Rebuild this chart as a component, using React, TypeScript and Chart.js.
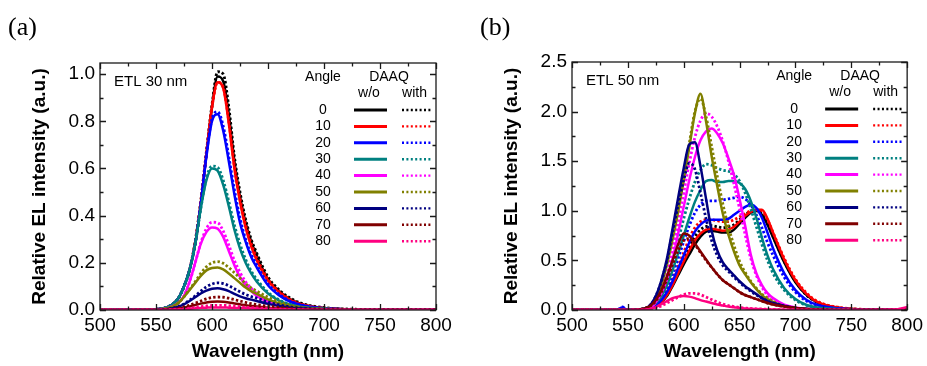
import React, { useEffect, useRef } from 'react';
import { Chart, registerables } from 'chart.js';
Chart.register(...registerables);

const ANGLES = ['0', '10', '20', '30', '40', '50', '60', '70', '80'];
const COLORS = ['#000000', '#ff0000', '#0000ff', '#008080', '#ff00ff', '#808000', '#000080', '#800000', '#ff0080'];
const HEADERS = { angle: 'Angle', daaq: 'DAAQ', wo: 'w/o', with: 'with' };
const PANEL_LABELS = ['(a)', '(b)'];
const ETL_LABELS = ['ETL 30 nm', 'ETL 50 nm'];
const X_TITLE = 'Wavelength (nm)';
const Y_TITLE = 'Relative EL intensity (a.u.)';

// Panel (a): ETL 30 nm
const WL_A = [500, 550, 560, 565, 570, 575, 580, 585, 590, 595, 600, 605, 610, 615, 620, 625, 630, 635, 640, 650, 660, 670, 680, 700, 730, 800];
const A_WO = [
  [0, 0.003, 0.012, 0.025, 0.05, 0.10, 0.17, 0.28, 0.45, 0.66, 0.86, 0.99, 0.97, 0.83, 0.63, 0.48, 0.37, 0.29, 0.23, 0.13, 0.08, 0.045, 0.025, 0.008, 0.002, 0],
  [0, 0.003, 0.012, 0.025, 0.05, 0.10, 0.17, 0.28, 0.45, 0.66, 0.86, 0.965, 0.94, 0.79, 0.60, 0.46, 0.35, 0.27, 0.21, 0.125, 0.075, 0.042, 0.023, 0.007, 0.002, 0],
  [0, 0.003, 0.012, 0.025, 0.05, 0.10, 0.17, 0.28, 0.45, 0.65, 0.80, 0.83, 0.76, 0.63, 0.49, 0.37, 0.29, 0.225, 0.18, 0.105, 0.062, 0.035, 0.02, 0.006, 0.002, 0],
  [0, 0.003, 0.012, 0.025, 0.05, 0.10, 0.17, 0.28, 0.43, 0.55, 0.60, 0.59, 0.53, 0.44, 0.34, 0.26, 0.20, 0.155, 0.12, 0.07, 0.04, 0.022, 0.012, 0.004, 0.001, 0],
  [0, 0.002, 0.008, 0.016, 0.03, 0.06, 0.12, 0.20, 0.28, 0.33, 0.35, 0.345, 0.31, 0.25, 0.19, 0.14, 0.105, 0.08, 0.06, 0.035, 0.02, 0.011, 0.006, 0.002, 0, 0],
  [0, 0.002, 0.008, 0.015, 0.03, 0.055, 0.085, 0.115, 0.145, 0.168, 0.178, 0.18, 0.172, 0.155, 0.135, 0.115, 0.095, 0.08, 0.068, 0.045, 0.028, 0.017, 0.01, 0.004, 0.001, 0],
  [0, 0.001, 0.004, 0.008, 0.014, 0.024, 0.038, 0.054, 0.07, 0.082, 0.09, 0.092, 0.088, 0.08, 0.068, 0.058, 0.05, 0.044, 0.038, 0.026, 0.017, 0.01, 0.006, 0.002, 0, 0],
  [0, 0, 0.002, 0.003, 0.006, 0.01, 0.015, 0.021, 0.027, 0.032, 0.035, 0.036, 0.035, 0.032, 0.028, 0.024, 0.02, 0.017, 0.015, 0.01, 0.007, 0.004, 0.003, 0.001, 0, 0],
  [0, 0, 0, 0.001, 0.002, 0.003, 0.005, 0.007, 0.009, 0.01, 0.011, 0.011, 0.011, 0.01, 0.009, 0.008, 0.007, 0.006, 0.005, 0.003, 0.002, 0.001, 0.001, 0, 0, 0],
];
const A_WITH = [
  [0, 0.003, 0.012, 0.025, 0.05, 0.10, 0.17, 0.29, 0.46, 0.67, 0.87, 1.01, 1.0, 0.86, 0.65, 0.50, 0.385, 0.30, 0.24, 0.14, 0.085, 0.05, 0.028, 0.01, 0.003, 0],
  [0, 0.003, 0.012, 0.025, 0.05, 0.10, 0.17, 0.29, 0.46, 0.67, 0.86, 0.965, 0.945, 0.80, 0.61, 0.47, 0.36, 0.28, 0.22, 0.13, 0.078, 0.044, 0.024, 0.008, 0.002, 0],
  [0, 0.003, 0.012, 0.025, 0.05, 0.10, 0.17, 0.28, 0.45, 0.66, 0.81, 0.84, 0.78, 0.65, 0.51, 0.39, 0.30, 0.235, 0.19, 0.11, 0.066, 0.037, 0.021, 0.007, 0.002, 0],
  [0, 0.003, 0.012, 0.025, 0.05, 0.10, 0.17, 0.28, 0.43, 0.56, 0.61, 0.605, 0.55, 0.46, 0.36, 0.28, 0.215, 0.165, 0.13, 0.075, 0.043, 0.024, 0.013, 0.004, 0.001, 0],
  [0, 0.002, 0.008, 0.016, 0.03, 0.06, 0.12, 0.20, 0.285, 0.345, 0.372, 0.37, 0.335, 0.275, 0.21, 0.16, 0.12, 0.092, 0.07, 0.04, 0.023, 0.013, 0.007, 0.002, 0, 0],
  [0, 0.002, 0.008, 0.015, 0.03, 0.056, 0.088, 0.12, 0.155, 0.183, 0.2, 0.205, 0.198, 0.18, 0.158, 0.135, 0.112, 0.094, 0.08, 0.054, 0.034, 0.02, 0.012, 0.005, 0.001, 0],
  [0, 0.001, 0.004, 0.008, 0.015, 0.026, 0.042, 0.06, 0.08, 0.098, 0.11, 0.115, 0.112, 0.103, 0.09, 0.077, 0.066, 0.057, 0.05, 0.034, 0.022, 0.013, 0.008, 0.003, 0, 0],
  [0, 0, 0.002, 0.004, 0.008, 0.013, 0.02, 0.029, 0.038, 0.047, 0.053, 0.055, 0.054, 0.05, 0.044, 0.038, 0.032, 0.027, 0.023, 0.016, 0.011, 0.007, 0.004, 0.001, 0, 0],
  [0, 0, 0.001, 0.002, 0.003, 0.005, 0.008, 0.011, 0.014, 0.017, 0.019, 0.02, 0.02, 0.018, 0.016, 0.014, 0.012, 0.01, 0.009, 0.006, 0.004, 0.002, 0.001, 0, 0, 0],
];

// Panel (b): ETL 50 nm
const WL_B = [500, 540, 545, 550, 560, 570, 575, 580, 585, 590, 595, 600, 605, 610, 615, 620, 625, 630, 635, 640, 645, 650, 655, 660, 665, 670, 675, 680, 690, 700, 710, 720, 740, 760, 790, 800];
const B_WO = [
  [0, 0, 0, 0, 0.003, 0.015, 0.04, 0.08, 0.14, 0.24, 0.35, 0.46, 0.56, 0.66, 0.74, 0.79, 0.80, 0.79, 0.78, 0.78, 0.81, 0.87, 0.93, 0.98, 1.0, 0.96, 0.86, 0.73, 0.48, 0.28, 0.15, 0.075, 0.02, 0.005, 0, 0.005],
  [0, 0, 0, 0, 0.003, 0.015, 0.04, 0.08, 0.15, 0.25, 0.37, 0.49, 0.60, 0.70, 0.77, 0.81, 0.82, 0.81, 0.80, 0.81, 0.84, 0.89, 0.95, 0.99, 1.01, 1.01, 0.92, 0.78, 0.51, 0.30, 0.16, 0.08, 0.022, 0.006, 0, 0.005],
  [0, 0, 0.025, 0, 0.004, 0.02, 0.05, 0.10, 0.18, 0.29, 0.42, 0.55, 0.68, 0.79, 0.86, 0.90, 0.91, 0.91, 0.91, 0.92, 0.96, 1.0, 1.04, 1.06, 1.03, 0.93, 0.78, 0.62, 0.37, 0.20, 0.10, 0.05, 0.014, 0.004, 0, 0.005],
  [0, 0, 0, 0, 0.005, 0.025, 0.07, 0.14, 0.25, 0.40, 0.57, 0.75, 0.93, 1.09, 1.21, 1.30, 1.31, 1.29, 1.29, 1.30, 1.30, 1.28, 1.22, 1.10, 0.93, 0.73, 0.55, 0.41, 0.22, 0.11, 0.05, 0.025, 0.008, 0.002, 0, 0.005],
  [0, 0, 0, 0, 0.005, 0.02, 0.08, 0.17, 0.31, 0.51, 0.77, 1.04, 1.31, 1.54, 1.71, 1.80, 1.83, 1.78, 1.68, 1.53, 1.36, 1.12, 0.85, 0.56, 0.37, 0.25, 0.17, 0.12, 0.055, 0.025, 0.01, 0.004, 0, 0, 0, 0.005],
  [0, 0, 0, 0, 0.005, 0.04, 0.12, 0.26, 0.46, 0.71, 0.99, 1.31, 1.64, 1.98, 2.18, 1.90, 1.55, 1.25, 0.97, 0.76, 0.59, 0.45, 0.36, 0.28, 0.21, 0.15, 0.11, 0.08, 0.04, 0.02, 0.008, 0.003, 0, 0, 0, 0.005],
  [0, 0, 0, 0, 0.005, 0.05, 0.14, 0.30, 0.52, 0.82, 1.13, 1.43, 1.67, 1.69, 1.45, 1.12, 0.80, 0.60, 0.48, 0.41, 0.35, 0.29, 0.24, 0.20, 0.16, 0.12, 0.09, 0.07, 0.04, 0.02, 0.01, 0.004, 0, 0, 0, 0.005],
  [0, 0, 0, 0, 0.005, 0.04, 0.10, 0.20, 0.34, 0.50, 0.66, 0.77, 0.75, 0.67, 0.59, 0.51, 0.43, 0.36, 0.30, 0.26, 0.22, 0.18, 0.15, 0.13, 0.11, 0.09, 0.07, 0.055, 0.035, 0.02, 0.01, 0.005, 0, 0, 0, 0.005],
  [0, 0, 0, 0, 0, 0.01, 0.03, 0.06, 0.09, 0.12, 0.135, 0.14, 0.135, 0.12, 0.10, 0.085, 0.07, 0.055, 0.045, 0.035, 0.028, 0.02, 0.015, 0.012, 0.01, 0.008, 0.006, 0.005, 0.003, 0.002, 0, 0, 0, 0, 0.005, 0.03],
];
const B_WITH = [
  [0, 0, 0, 0, 0.003, 0.015, 0.04, 0.09, 0.16, 0.27, 0.39, 0.52, 0.64, 0.74, 0.81, 0.84, 0.85, 0.84, 0.83, 0.84, 0.86, 0.91, 0.96, 0.99, 1.0, 0.97, 0.87, 0.74, 0.49, 0.29, 0.15, 0.075, 0.02, 0.005, 0, 0.005],
  [0, 0, 0, 0, 0.004, 0.02, 0.05, 0.10, 0.18, 0.30, 0.44, 0.58, 0.72, 0.83, 0.89, 0.91, 0.91, 0.90, 0.89, 0.89, 0.91, 0.94, 0.97, 1.0, 1.01, 1.0, 0.91, 0.78, 0.52, 0.31, 0.17, 0.085, 0.025, 0.007, 0, 0.005],
  [0, 0, 0.03, 0, 0.004, 0.02, 0.06, 0.12, 0.22, 0.36, 0.52, 0.69, 0.85, 0.98, 1.06, 1.10, 1.10, 1.10, 1.11, 1.12, 1.13, 1.14, 1.12, 1.06, 0.96, 0.83, 0.68, 0.55, 0.33, 0.18, 0.09, 0.045, 0.012, 0.003, 0, 0.005],
  [0, 0, 0, 0, 0.005, 0.03, 0.08, 0.16, 0.30, 0.48, 0.70, 0.92, 1.12, 1.29, 1.41, 1.47, 1.46, 1.43, 1.41, 1.40, 1.37, 1.30, 1.18, 1.02, 0.84, 0.66, 0.50, 0.37, 0.20, 0.10, 0.045, 0.02, 0.006, 0.002, 0, 0.005],
  [0, 0, 0, 0, 0.005, 0.02, 0.09, 0.19, 0.36, 0.59, 0.88, 1.18, 1.48, 1.74, 1.91, 1.98, 1.95, 1.85, 1.70, 1.50, 1.27, 1.02, 0.76, 0.52, 0.35, 0.23, 0.15, 0.10, 0.045, 0.018, 0.007, 0.003, 0, 0, 0, 0.005],
  [0, 0, 0, 0, 0.005, 0.04, 0.12, 0.27, 0.48, 0.74, 1.03, 1.35, 1.68, 2.0, 2.13, 1.95, 1.65, 1.35, 1.07, 0.84, 0.65, 0.49, 0.38, 0.29, 0.22, 0.16, 0.12, 0.085, 0.04, 0.02, 0.008, 0.003, 0, 0, 0, 0.005],
  [0, 0, 0, 0, 0.005, 0.05, 0.14, 0.29, 0.50, 0.78, 1.06, 1.31, 1.48, 1.42, 1.18, 0.92, 0.70, 0.55, 0.45, 0.39, 0.33, 0.28, 0.23, 0.19, 0.15, 0.12, 0.09, 0.07, 0.04, 0.02, 0.01, 0.004, 0, 0, 0, 0.005],
  [0, 0, 0, 0, 0.005, 0.04, 0.09, 0.18, 0.31, 0.46, 0.60, 0.70, 0.72, 0.66, 0.58, 0.50, 0.43, 0.36, 0.30, 0.26, 0.22, 0.18, 0.15, 0.13, 0.11, 0.09, 0.07, 0.055, 0.035, 0.02, 0.01, 0.005, 0, 0, 0, 0.005],
  [0, 0, 0, 0, 0, 0.01, 0.02, 0.04, 0.07, 0.10, 0.13, 0.155, 0.168, 0.168, 0.155, 0.13, 0.105, 0.08, 0.06, 0.045, 0.035, 0.025, 0.02, 0.015, 0.012, 0.01, 0.008, 0.006, 0.004, 0.002, 0, 0, 0, 0, 0.005, 0.02],
];

const SANS = 'Arial, "Liberation Sans", Helvetica, sans-serif';
const SERIF = '"Liberation Serif", "Times New Roman", serif';

type PanelCfg = {
  idx: number;
  x: number;
  w: number;
  yAxisW: number;
  padRight: number;
  padTop: number;
  yMax: number;
  yStep: number;
  yTitlePad: number;
  wl: number[];
  wo: number[][];
  wi: number[][];
};

const PANELS: PanelCfg[] = [
  { idx: 0, x: 0, w: 463, yAxisW: 100, padRight: 27, padTop: 63, yMax: 1.047, yStep: 0.2, yTitlePad: 28, wl: WL_A, wo: A_WO, wi: A_WITH },
  { idx: 1, x: 463, w: 464, yAxisW: 109, padRight: 18, padTop: 62, yMax: 2.5, yStep: 0.5, yTitlePad: 37, wl: WL_B, wo: B_WO, wi: B_WITH },
];

function decorPlugin(cfg: PanelCfg) {
  return {
    id: 'decor' + cfg.idx,
    afterDatasetsDraw(chart: any) {
      const { ctx, chartArea } = chart;
      const { left, right, top, bottom } = chartArea;
      const xs = chart.scales.x;
      const ys = chart.scales.y;
      ctx.save();
      ctx.strokeStyle = '#1a1a1a';
      ctx.lineWidth = 1.3;
      ctx.strokeRect(left, top, right - left, bottom - top);
      const xv = xs.ticks.map((t: any) => t.value);
      const yv = ys.ticks.map((t: any) => t.value);
      const MAJ = 6, MIN = 3.5;
      ctx.beginPath();
      const xTick = (v: number, len: number) => {
        const p = Math.round(xs.getPixelForValue(v)) + 0.5;
        ctx.moveTo(p, bottom); ctx.lineTo(p, bottom - len);
        ctx.moveTo(p, top); ctx.lineTo(p, top + len);
      };
      const yTick = (v: number, len: number) => {
        const p = Math.round(ys.getPixelForValue(v)) + 0.5;
        ctx.moveTo(left, p); ctx.lineTo(left + len, p);
        ctx.moveTo(right, p); ctx.lineTo(right - len, p);
      };
      xv.forEach((v: number, i: number) => {
        xTick(v, MAJ);
        if (i < xv.length - 1) xTick((v + xv[i + 1]) / 2, MIN);
      });
      yv.forEach((v: number, i: number) => {
        yTick(v, MAJ);
        const nxt = i < yv.length - 1 ? yv[i + 1] : v + cfg.yStep;
        const mid = (v + nxt) / 2;
        if (mid <= ys.max) yTick(mid, MIN);
      });
      ctx.stroke();

      ctx.fillStyle = '#000';
      ctx.textBaseline = 'middle';
      ctx.textAlign = 'left';
      ctx.font = `26px ${SERIF}`;
      ctx.fillText(PANEL_LABELS[cfg.idx], cfg.idx === 0 ? 8 : 17, 28);
      ctx.font = `15px ${SANS}`;
      ctx.fillText(ETL_LABELS[cfg.idx], left + 14, top + 19);

      ctx.font = `14px ${SANS}`;
      ctx.textAlign = 'center';
      ctx.fillText(HEADERS.angle, right - 113, top + 14);
      ctx.fillText(HEADERS.daaq, right - 47, top + 14);
      ctx.fillText(HEADERS.wo, right - 67, top + 30.5);
      ctx.fillText(HEADERS.with, right - 21.5, top + 30.5);
      ANGLES.forEach((a, i) => {
        const y = top + 47 + i * 16.4;
        ctx.fillStyle = '#000';
        ctx.fillText(a, right - 113, y);
        ctx.strokeStyle = COLORS[i];
        ctx.lineWidth = 3;
        ctx.setLineDash([]);
        ctx.beginPath();
        ctx.moveTo(right - 82, y);
        ctx.lineTo(right - 49, y);
        ctx.stroke();
        ctx.lineWidth = 2.4;
        ctx.setLineDash([2, 2.4]);
        ctx.beginPath();
        ctx.moveTo(right - 34, y);
        ctx.lineTo(right - 4, y);
        ctx.stroke();
      });
      ctx.restore();
    },
  };
}

function buildConfig(cfg: PanelCfg): any {
  const datasets: any[] = [];
  COLORS.forEach((c, i) => {
    datasets.push({
      data: cfg.wl.map((x, k) => ({ x, y: cfg.wo[i][k] })),
      borderColor: c,
      backgroundColor: c,
      borderWidth: 2.5,
      pointRadius: 0,
      cubicInterpolationMode: 'monotone',
      order: 100 - 2 * i,
    });
    datasets.push({
      data: cfg.wl.map((x, k) => ({ x, y: cfg.wi[i][k] })),
      borderColor: c,
      backgroundColor: c,
      borderWidth: 2.8,
      borderDash: [2.4, 2.2],
      pointRadius: 0,
      cubicInterpolationMode: 'monotone',
      order: 99 - 2 * i,
    });
  });
  const tickFont = { family: SANS, size: 19 };
  const titleFont = { family: SANS, size: 19, weight: 'bold' as const };
  return {
    type: 'line',
    data: { datasets },
    options: {
      animation: false,
      responsive: false,
      maintainAspectRatio: false,
      devicePixelRatio: 1,
      layout: { padding: { left: 0, right: cfg.padRight, top: cfg.padTop, bottom: 0 } },
      plugins: { legend: { display: false }, tooltip: { enabled: false } },
      scales: {
        x: {
          type: 'linear',
          min: 500,
          max: 800,
          grid: { display: false, drawTicks: false },
          border: { display: false },
          ticks: { stepSize: 50, color: '#000', font: tickFont, padding: 4, maxRotation: 0, autoSkip: false, includeBounds: false },
          title: { display: true, text: X_TITLE, color: '#000', font: titleFont, padding: { top: 0, bottom: 3 } },
          afterFit: (s: any) => { s.height = 56; },
        },
        y: {
          type: 'linear',
          min: 0,
          max: cfg.yMax,
          grid: { display: false, drawTicks: false },
          border: { display: false },
          ticks: {
            stepSize: cfg.yStep,
            color: '#000',
            font: tickFont,
            padding: 5,
            includeBounds: false,
            callback: (v: any) => Number(v).toFixed(1),
          },
          title: { display: true, text: Y_TITLE, color: '#000', font: titleFont, padding: { top: cfg.yTitlePad, bottom: 0 } },
          afterFit: (s: any) => { s.width = cfg.yAxisW; },
        },
      },
    },
    plugins: [decorPlugin(cfg)],
  };
}

function Panel({ cfg }: { cfg: PanelCfg }) {
  const ref = useRef<HTMLCanvasElement>(null);
  useEffect(() => {
    const chart = new Chart(ref.current as HTMLCanvasElement, buildConfig(cfg));
    return () => chart.destroy();
  }, [cfg]);
  return (
    <canvas
      ref={ref}
      width={cfg.w}
      height={366}
      style={{ position: 'absolute', left: cfg.x, top: 0, width: cfg.w, height: 366 }}
    />
  );
}

export default function App() {
  return (
    <div style={{ position: 'absolute', left: 0, top: 0, width: 927, height: 366, background: '#fff', overflow: 'hidden' }}>
      {PANELS.map((p) => (
        <Panel key={p.idx} cfg={p} />
      ))}
    </div>
  );
}
